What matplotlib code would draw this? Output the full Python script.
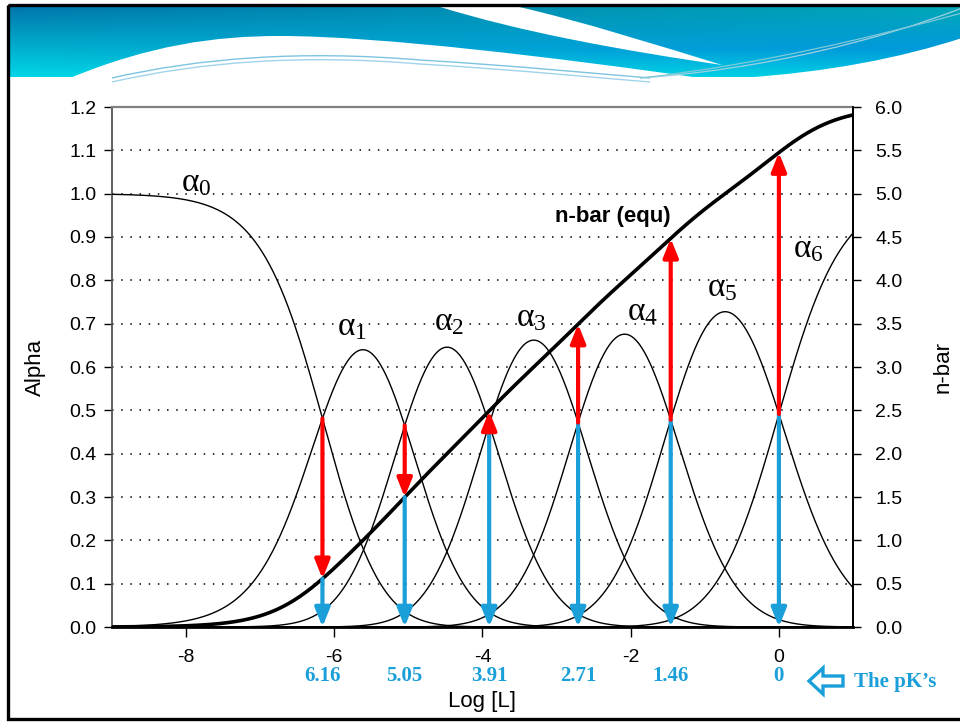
import numpy as np
import matplotlib
matplotlib.use("Agg")
import matplotlib.pyplot as plt
import matplotlib.transforms as mtransforms
from matplotlib.path import Path
from matplotlib.patches import PathPatch, Polygon, FancyArrowPatch, Rectangle

plt.rcParams['font.family'] = ['Liberation Sans', 'DejaVu Sans']
plt.rcParams['mathtext.fontset'] = 'custom'
plt.rcParams['mathtext.rm'] = 'Liberation Serif'
plt.rcParams['mathtext.it'] = 'Liberation Serif'
plt.rcParams['axes.unicode_minus'] = False

# stepwise log K values (the pK's)
pK = [6.16, 5.05, 3.91, 2.71, 1.46, 0.0]
pK_labels = ['6.16', '5.05', '3.91', '2.71', '1.46', '0']
species_labels = [r'$\alpha_0$', r'$\alpha_1$', r'$\alpha_2$', r'$\alpha_3$',
                  r'$\alpha_4$', r'$\alpha_5$', r'$\alpha_6$']
x_ticks = [-8, -6, -4, -2, 0]

BLUE = '#1a9fd9'
RED = '#ff0000'

# speciation: alpha_i = beta_i L^i / sum, n-bar = sum i*alpha_i
logL = np.linspace(-9, 1, 801)
n = np.arange(len(pK) + 1)
logbeta = np.concatenate([[0.0], np.cumsum(pK)])


def species(lx):
    lx = np.atleast_1d(lx)
    t = 10.0 ** (logbeta[:, None] + n[:, None] * lx[None, :])
    return t / t.sum(axis=0)


alpha = species(logL)
nbar = n @ alpha

fig = plt.figure(figsize=(9.6, 7.25), dpi=100)

# ---- slide decoration (pixel coordinates) ----
bg = fig.add_axes([0, 0, 1, 1], zorder=-5)
bg.set_xlim(0, 960)
bg.set_ylim(725, 0)
bg.axis('off')

H, W = 70, 950
yy = np.linspace(0, 1, H)[:, None]
xx = np.linspace(0, 1, W)[None, :]
left_top = np.array([0, 119, 173]) / 255
left_bot = np.array([0, 214, 230]) / 255
right_top = np.array([0, 168, 184]) / 255
right_mid = np.array([0, 152, 220]) / 255
right_bot = np.array([0, 206, 228]) / 255
lcol = left_top + (left_bot - left_top) * yy[..., None]
rcol = np.where(yy[..., None] < 0.6,
                right_top + (right_mid - right_top) * (yy[..., None] / 0.6),
                right_mid + (right_bot - right_mid) * ((yy[..., None] - 0.6) / 0.4))
img = lcol * (1 - xx[..., None]) + rcol * xx[..., None]
bg.imshow(img, extent=[10, 960, 77, 7], aspect='auto', zorder=0, interpolation='bilinear')

M, C, L, Z = Path.MOVETO, Path.CURVE4, Path.LINETO, Path.CLOSEPOLY
# big white swoosh lower left
verts = [(70, 78), (150, 45), (215, 36), (280, 36),
         (380, 36), (560, 58), (700, 78), (70, 78)]
bg.add_patch(PathPatch(Path(verts, [M, C, C, C, C, C, C, Z]), fc='white', ec='none', zorder=1))
# white region lower right
verts = [(740, 78), (830, 72), (900, 58), (962, 38), (962, 78), (740, 78)]
bg.add_patch(PathPatch(Path(verts, [M, C, C, C, L, Z]), fc='white', ec='none', zorder=1))
# white wedge from the top
verts = [(437, 6), (515, 6), (585, 22), (660, 46), (722, 65),
         (620, 50), (520, 32), (437, 6)]
bg.add_patch(PathPatch(Path(verts, [M, L, C, C, C, C, C, C]), fc='white', ec='none', zorder=1))
# thin light lines
for dy, col in [(0, '#7cc4e0'), (4, '#9fd4ea')]:
    verts = [(112, 78 + dy), (200, 58 + dy), (300, 50 + dy), (420, 58 + dy + 2),
             (520, 66 + dy), (600, 74 + dy), (650, 78 + dy)]
    bg.add_patch(PathPatch(Path(verts, [M, C, C, C, C, C, C]), fc='none', ec=col,
                           lw=1.0, zorder=2))
for dy, col in [(0, '#9fd0e0'), (5, '#7fc8d8')]:
    verts = [(640, 78), (760, 70 - dy), (880, 40 - dy), (962, 8 + dy)]
    bg.add_patch(PathPatch(Path(verts, [M, C, C, C]), fc='none', ec=col, lw=0.9, zorder=2))

# slide frame
bg.add_patch(Rectangle((8, 5), 970, 714, fc='none', ec='black', lw=2.4, zorder=3))

# "The pK's" note with hollow arrow
arrow_pts = [(809, 681), (823, 668), (823, 676), (843, 676), (843, 686), (823, 686), (823, 694)]
bg.add_patch(Polygon(arrow_pts, closed=True, fc='white', ec=BLUE, lw=2.4, zorder=3))
bg.text(854, 682, 'The pK\u2019s', color=BLUE, fontsize=15, fontweight='bold',
        family='Liberation Serif', ha='left', va='center')

# ---- main chart ----
ax = fig.add_axes([112 / 960, 98 / 725, 741 / 960, 520 / 725])
ax.set_xlim(-9, 1)
ax.set_ylim(0, 1.2)

for i in range(len(n)):
    ax.plot(logL, alpha[i], color='black', lw=1.0, zorder=3)

ax.set_yticks(np.round(np.arange(0, 1.21, 0.1), 1))
ax.set_yticklabels([f'{v:.1f}' for v in np.arange(0, 1.21, 0.1)])
ax.set_xticks(x_ticks)
ax.set_xticklabels([str(v) for v in x_ticks])
ax.grid(axis='y', color='black', lw=1.1, linestyle=(0, (1, 5)))
ax.set_axisbelow(True)
ax.tick_params(axis='y', direction='out', length=6, width=1, pad=5, labelsize=14)
ax.tick_params(axis='x', direction='out', length=7, width=1, pad=9, labelsize=14)

ax.spines['left'].set_color('#555555')
ax.spines['left'].set_linewidth(1.3)
ax.spines['top'].set_color('#808080')
ax.spines['top'].set_linewidth(1.6)
ax.spines['bottom'].set_linewidth(2.0)
ax.spines['right'].set_linewidth(1.3)

ax2 = ax.twinx()
ax2.set_ylim(0, 6)
ax2.set_yticks(np.arange(0, 6.01, 0.5))
ax2.set_yticklabels([f'{v:.1f}' for v in np.arange(0, 6.01, 0.5)])
ax2.tick_params(axis='y', direction='out', length=6, width=1, pad=10, labelsize=14)
for s in ['left', 'top', 'bottom']:
    ax2.spines[s].set_visible(False)
ax2.spines['right'].set_linewidth(1.3)
ax2.plot(logL, nbar, color='black', lw=2.6, zorder=3)

# arrows at each alpha_{i-1} = alpha_i crossing
xc = -np.array(pK)
a_cross = species(xc)
cross = np.array([a_cross[i, i] for i in range(len(pK))])
nb_cross = n @ a_cross
scale = 5.0  # n-bar axis / alpha axis
for x, c, nb in zip(xc, cross, nb_cross):
    c2 = c * scale
    low = min(c2, nb)
    ax2.add_patch(FancyArrowPatch((x, low), (x, 0), arrowstyle='-|>,head_length=0.75,head_width=0.3',
                                  mutation_scale=15, color=BLUE, lw=3, shrinkA=0, shrinkB=0, zorder=5))
    ax2.add_patch(FancyArrowPatch((x, c2), (x, nb), arrowstyle='-|>,head_length=0.75,head_width=0.3',
                                  mutation_scale=15, color=RED, lw=3, shrinkA=0, shrinkB=0, zorder=6))

# species labels
label_pos = [(-7.86, 1.025), (-5.76, 0.692), (-4.45, 0.704), (-3.34, 0.713),
             (-1.84, 0.727), (-0.76, 0.782), (0.39, 0.872)]
for lab, (x, y) in zip(species_labels, label_pos):
    ax.text(x, y, lab, fontsize=24, ha='center', va='center', zorder=7)
ax.text(-2.24, 0.948, 'n-bar (equ)', fontsize=16, fontweight='bold', ha='center',
        va='center', zorder=7)

# pK values under the x axis
trans = mtransforms.blended_transform_factory(ax.transData, ax.transAxes)
for x, lab in zip(xc, pK_labels):
    ax.text(x, -0.095, lab, transform=trans, color=BLUE, fontsize=15, fontweight='bold',
            family='Liberation Serif', ha='center', va='center')

fig.text(482 / 960, 1 - 701 / 725, 'Log [L]', fontsize=16, ha='center', va='center')
fig.text(35 / 960, 1 - 367 / 725, 'Alpha', fontsize=16, rotation=90, ha='center', va='center')
fig.text(943 / 960, 1 - 367 / 725, 'n-bar', fontsize=16, rotation=90, ha='center', va='center')

fig.savefig('out.png', dpi=100)
